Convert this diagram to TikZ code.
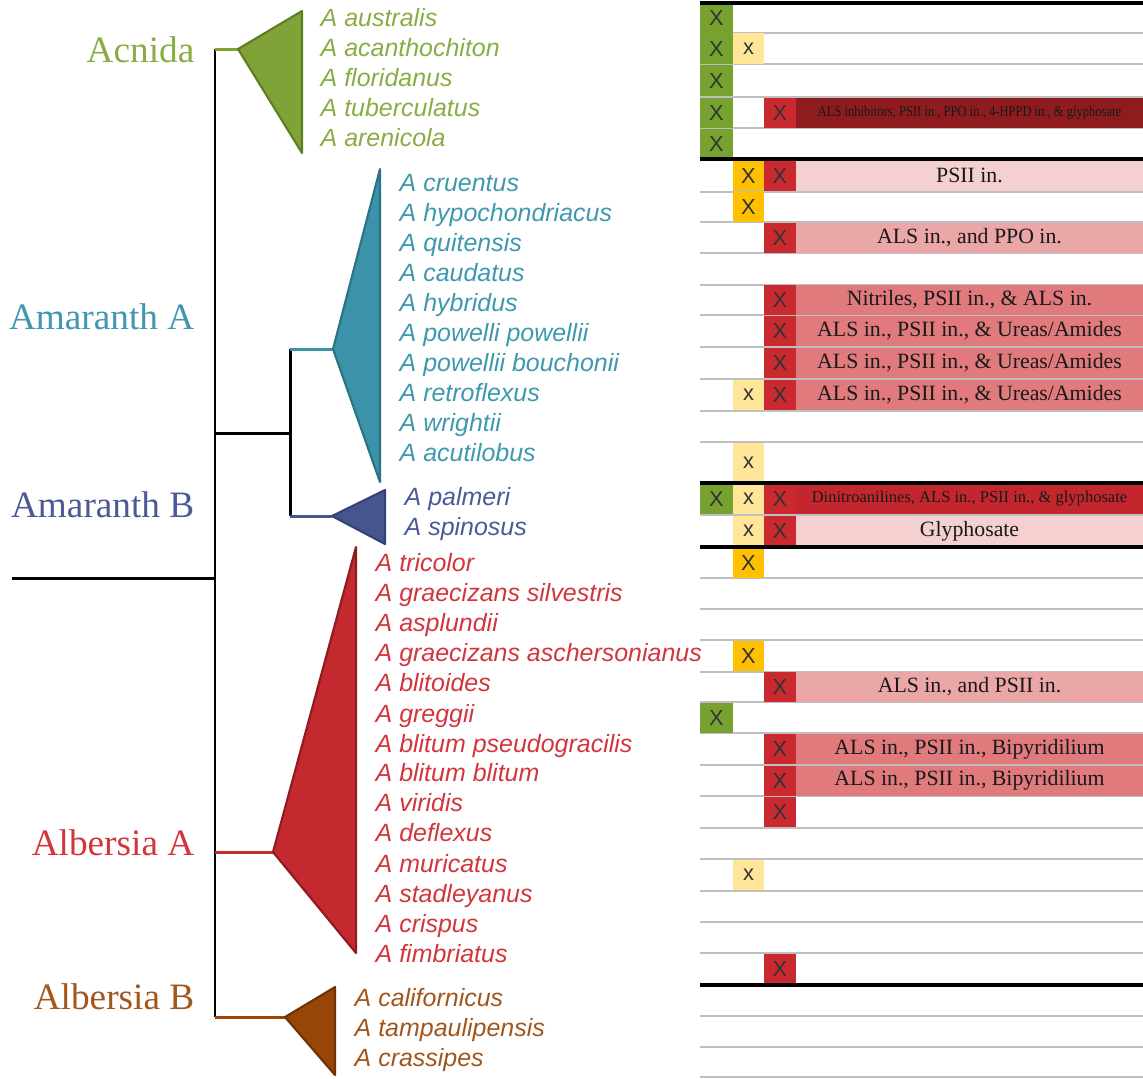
\documentclass[tikz,border=0pt]{standalone}
\usepackage{fontspec}
\setmainfont{Liberation Serif}
\setsansfont{Liberation Sans}
\definecolor{acnida}{HTML}{7FA336}
\definecolor{acnidadk}{HTML}{5E7E22}
\definecolor{acnidatx}{HTML}{89AD44}
\definecolor{amarA}{HTML}{3A93A8}
\definecolor{amarAdk}{HTML}{2A7384}
\definecolor{amarAtx}{HTML}{3E98AE}
\definecolor{amarB}{HTML}{46558E}
\definecolor{amarBdk}{HTML}{34427A}
\definecolor{amarBtx}{HTML}{4B5A94}
\definecolor{albA}{HTML}{C4292F}
\definecolor{albAdk}{HTML}{8F1A1F}
\definecolor{albAtx}{HTML}{D2363C}
\definecolor{albB}{HTML}{974608}
\definecolor{albBdk}{HTML}{6F3204}
\definecolor{albBtx}{HTML}{A1561C}
\definecolor{tgreen}{HTML}{78A22F}
\definecolor{tyellow}{HTML}{FFE699}
\definecolor{torange}{HTML}{FFC000}
\definecolor{tred}{HTML}{C9292F}
\definecolor{bardark}{HTML}{8E1C1F}
\definecolor{barred}{HTML}{C3272D}
\definecolor{barpale}{HTML}{F4D0D1}
\definecolor{barmid}{HTML}{EBA6A8}
\definecolor{barhot}{HTML}{E07A7D}
\begin{document}
\begin{tikzpicture}[x=0.01cm,y=-0.01cm,
    clade/.style={anchor=east,inner sep=0pt,font=\fontsize{10.6}{13}\selectfont},
    taxon/.style={anchor=west,inner sep=0pt,text height=5pt,text depth=1.5pt,
      font=\fontsize{7.1}{8}\sffamily\itshape},
    branch/.style={line width=0.85pt},
    wedge/.style={line width=0.6pt,line join=round},
    gridline/.style={draw=black!25,line width=0.55pt},
    rule/.style={draw=black,line width=0.9pt},
    xbox/.style={inner sep=0pt,minimum height=0.30cm,text=black!80,
      font=\fontsize{6.2}{7}\sffamily},
    gbox/.style={xbox,fill=tgreen,minimum width=0.33cm},
    ybox/.style={xbox,fill=tyellow,minimum width=0.31cm},
    obox/.style={xbox,fill=torange,minimum width=0.31cm},
    rbox/.style={xbox,fill=tred,minimum width=0.32cm},
    resbar/.style={inner sep=0pt,minimum height=0.30cm,minimum width=3.47cm,
      text=black!90,font=\fontsize{6.2}{7}\selectfont}]
  \useasboundingbox (0,0) rectangle (1143,1078);

  % tree
  \coordinate (root) at (12,578);
  \coordinate (base) at (215,578);
  \coordinate (top) at (215,49);
  \coordinate (bot) at (215,1017);
  \coordinate (amarN) at (215,433);
  \coordinate (amarS) at (290,433);
  \coordinate (amarAN) at (290,349);
  \coordinate (amarBN) at (290,516);
  \coordinate (albAN) at (215,852);
  \coordinate (acnApex) at (238,49);
  \coordinate (amarAApex) at (333,349);
  \coordinate (amarBApex) at (332,516);
  \coordinate (albAApex) at (273,852);
  \coordinate (albBApex) at (285,1017);
  \draw[branch] (root) -- (base);
  \draw[branch] (top) -- (bot);
  \draw[branch] (amarN) -- (amarS);
  \draw[branch] (amarAN) -- (amarBN);
  \draw[branch,acnida] (top) -- (acnApex);
  \draw[branch,amarA] (amarAN) -- (amarAApex);
  \draw[branch,amarB] (amarBN) -- (amarBApex);
  \draw[branch,albA] (albAN) -- (albAApex);
  \draw[branch,albB] (bot) -- (albBApex);
  \filldraw[wedge,fill=acnida,draw=acnidadk] (acnApex) -- (302,11) -- (302,153) -- cycle;
  \filldraw[wedge,fill=amarA,draw=amarAdk] (amarAApex) -- (380,169) -- (380,482) -- cycle;
  \filldraw[wedge,fill=amarB,draw=amarBdk] (amarBApex) -- (385,490) -- (385,544) -- cycle;
  \filldraw[wedge,fill=albA,draw=albAdk] (albAApex) -- (356,547) -- (356,953) -- cycle;
  \filldraw[wedge,fill=albB,draw=albBdk] (albBApex) -- (335,987) -- (335,1075) -- cycle;

  \node[clade,acnidatx] (acnida) at (195,50) {Acnida};
  \node[clade,amarAtx] (amaranthA) at (195,317) {Amaranth A};
  \node[clade,amarBtx] (amaranthB) at (195,505) {Amaranth B};
  \node[clade,albAtx] (albersiaA) at (195,843) {Albersia A};
  \node[clade,albBtx] (albersiaB) at (195,997) {Albersia B};

  % species
  \node[taxon,acnidatx] (australis) at (320,20) {A australis};
  \node[taxon,acnidatx] (acanthochiton) at (320,50) {A acanthochiton};
  \node[taxon,acnidatx] (floridanus) at (320,80) {A floridanus};
  \node[taxon,acnidatx] (tuberculatus) at (320,110) {A tuberculatus};
  \node[taxon,acnidatx] (arenicola) at (320,140) {A arenicola};
  \node[taxon,amarAtx] (cruentus) at (399,185) {A cruentus};
  \node[taxon,amarAtx] (hypochondriacus) at (399,215) {A hypochondriacus};
  \node[taxon,amarAtx] (quitensis) at (399,245) {A quitensis};
  \node[taxon,amarAtx] (caudatus) at (399,275) {A caudatus};
  \node[taxon,amarAtx] (hybridus) at (399,305) {A hybridus};
  \node[taxon,amarAtx] (powellii) at (399,335) {A powelli powellii};
  \node[taxon,amarAtx] (bouchonii) at (399,365) {A powellii bouchonii};
  \node[taxon,amarAtx] (retroflexus) at (399,395) {A retroflexus};
  \node[taxon,amarAtx] (wrightii) at (399,425) {A wrightii};
  \node[taxon,amarAtx] (acutilobus) at (399,455) {A acutilobus};
  \node[taxon,amarBtx] (palmeri) at (404,499) {A palmeri};
  \node[taxon,amarBtx] (spinosus) at (404,529) {A spinosus};
  \node[taxon,albAtx] (tricolor) at (375,565) {A tricolor};
  \node[taxon,albAtx] (silvestris) at (375,595) {A graecizans silvestris};
  \node[taxon,albAtx] (asplundii) at (375,625) {A asplundii};
  \node[taxon,albAtx] (aschersonianus) at (375,655) {A graecizans aschersonianus};
  \node[taxon,albAtx] (blitoides) at (375,685) {A blitoides};
  \node[taxon,albAtx] (greggii) at (375,716) {A greggii};
  \node[taxon,albAtx] (pseudogracilis) at (375,746) {A blitum pseudogracilis};
  \node[taxon,albAtx] (blitum) at (375,775) {A blitum blitum};
  \node[taxon,albAtx] (viridis) at (375,805) {A viridis};
  \node[taxon,albAtx] (deflexus) at (375,835) {A deflexus};
  \node[taxon,albAtx] (muricatus) at (375,866) {A muricatus};
  \node[taxon,albAtx] (stadleyanus) at (375,896) {A stadleyanus};
  \node[taxon,albAtx] (crispus) at (375,926) {A crispus};
  \node[taxon,albAtx] (fimbriatus) at (375,956) {A fimbriatus};
  \node[taxon,albBtx] (californicus) at (354,1000) {A californicus};
  \node[taxon,albBtx] (tampaulipensis) at (354,1030) {A tampaulipensis};
  \node[taxon,albBtx] (crassipes) at (354,1060) {A crassipes};

  % table
  \draw[gridline]
    (700,33) -- (1143,33)
    (700,64) -- (1143,64)
    (700,97) -- (1143,97)
    (700,128) -- (1143,128)
    (700,192) -- (1143,192)
    (700,222) -- (1143,222)
    (700,253) -- (1143,253)
    (700,285) -- (1143,285)
    (700,315) -- (1143,315)
    (700,347) -- (1143,347)
    (700,379) -- (1143,379)
    (700,411) -- (1143,411)
    (700,442) -- (1143,442)
    (700,515) -- (1143,515)
    (700,578) -- (1143,578)
    (700,609) -- (1143,609)
    (700,640) -- (1143,640)
    (700,672) -- (1143,672)
    (700,702) -- (1143,702)
    (700,733) -- (1143,733)
    (700,765) -- (1143,765)
    (700,796) -- (1143,796)
    (700,828) -- (1143,828)
    (700,859) -- (1143,859)
    (700,891) -- (1143,891)
    (700,922) -- (1143,922)
    (700,953) -- (1143,953)
    (700,1016) -- (1143,1016)
    (700,1047) -- (1143,1047)
    (700,1077) -- (1143,1077);

  \node[gbox] (g1) at (716.5,18) {X};
  \node[gbox] (g2) at (716.5,48.5) {X};
  \node[ybox] (y2) at (748.5,48.5) {x};
  \node[gbox] (g3) at (716.5,80.5) {X};
  \node[gbox] (g4) at (716.5,112.5) {X};
  \node[rbox] (r4) at (780,112.5) {X};
  \node[resbar,fill=bardark] (b4) at (969.5,112.5)
    {\fontsize{4.3}{5}\selectfont\scalebox{0.83}[1]{ALS inhibitors, PSII in., PPO in., 4-HPPD in., \& glyphosate}};
  \node[gbox] (g5) at (716.5,143.5) {X};
  \node[obox] (o6) at (748.5,175.5) {X};
  \node[rbox] (r6) at (780,175.5) {X};
  \node[resbar,fill=barpale] (b6) at (969.5,175.5) {PSII in.};
  \node[obox] (o7) at (748.5,207) {X};
  \node[rbox] (r8) at (780,237.5) {X};
  \node[resbar,fill=barmid] (b8) at (969.5,237.5) {ALS in., and PPO in.};
  \node[rbox] (r10) at (780,300) {X};
  \node[resbar,fill=barhot] (b10) at (969.5,300) {Nitriles, PSII in., \& ALS in.};
  \node[rbox] (r11) at (780,331) {X};
  \node[resbar,fill=barhot] (b11) at (969.5,331) {ALS in., PSII in., \& Ureas/Amides};
  \node[rbox] (r12) at (780,363) {X};
  \node[resbar,fill=barhot] (b12) at (969.5,363) {ALS in., PSII in., \& Ureas/Amides};
  \node[ybox] (y13) at (748.5,395) {x};
  \node[rbox] (r13) at (780,395) {X};
  \node[resbar,fill=barhot] (b13) at (969.5,395) {ALS in., PSII in., \& Ureas/Amides};
  \node[ybox,minimum height=0.40cm] (y15) at (748.5,462.5) {x};
  \node[gbox] (g16) at (716.5,499) {X};
  \node[ybox] (y16) at (748.5,499) {x};
  \node[rbox] (r16) at (780,499) {X};
  \node[resbar,fill=barred] (b16) at (969.5,499)
    {\fontsize{4.7}{5}\selectfont Dinitroanilines, ALS in., PSII in., \& glyphosate};
  \node[ybox] (y17) at (748.5,531) {x};
  \node[rbox] (r17) at (780,531) {X};
  \node[resbar,fill=barpale] (b17) at (969.5,531) {Glyphosate};
  \node[obox] (o18) at (748.5,562.5) {X};
  \node[obox] (o21) at (748.5,656) {X};
  \node[rbox] (r22) at (780,687) {X};
  \node[resbar,fill=barmid] (b22) at (969.5,687) {ALS in., and PSII in.};
  \node[gbox] (g23) at (716.5,717.5) {X};
  \node[rbox] (r24) at (780,749) {X};
  \node[resbar,fill=barhot] (b24) at (969.5,749) {ALS in., PSII in., Bipyridilium};
  \node[rbox] (r25) at (780,780.5) {X};
  \node[resbar,fill=barhot] (b25) at (969.5,780.5) {ALS in., PSII in., Bipyridilium};
  \node[rbox] (r26) at (780,812) {X};
  \node[ybox] (y28) at (748.5,875) {x};
  \node[rbox] (r31) at (780,969) {X};

  \draw[rule]
    (700,3) -- (1143,3)
    (700,159) -- (1143,159)
    (700,483) -- (1143,483)
    (700,547) -- (1143,547)
    (700,985) -- (1143,985);
\end{tikzpicture}
\end{document}
